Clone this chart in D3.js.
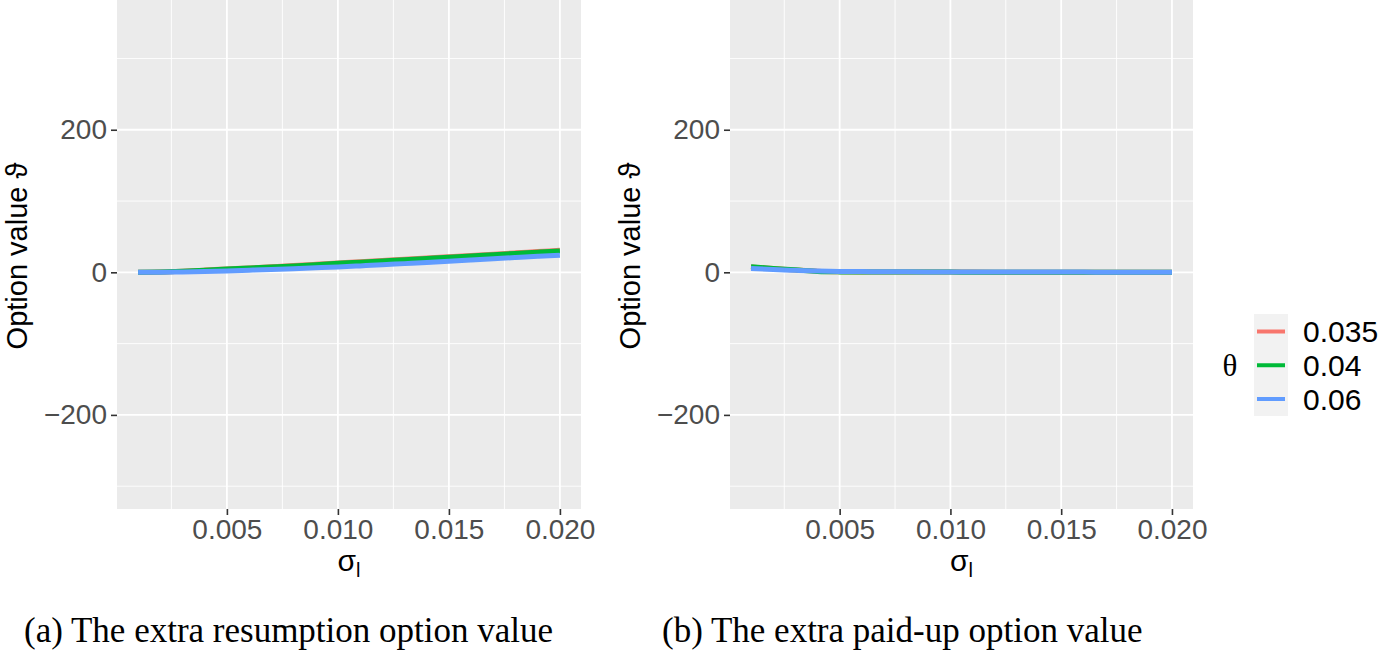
<!DOCTYPE html>
<html>
<head>
<meta charset="utf-8">
<script src="https://cdn.jsdelivr.net/npm/d3@7"></script>
<style>
body{margin:0;background:#fff}
</style>
</head>
<body>
<div id="fig"></div>
<script>
var sigma = [0.001,0.002,0.003,0.004,0.005,0.006,0.007,0.008,0.009,0.010,0.011,0.012,0.013,0.014,0.015,0.016,0.017,0.018,0.019,0.020];
var thetas = ["0.035","0.04","0.06"];
var colors = ["#F8766D","#00BA38","#619CFF"];

// (a) resumption option
var resA_035 = [0,0.5,1.6,3.1,4.7,6.2,7.8,9.4,11.2,13,14.8,16.5,18.3,20.1,21.9,23.7,25.5,27.3,29.1,30.9];
var resA_04  = [0,0.5,1.5,3,4.5,6,7.5,9,10.8,12.6,14.3,16,17.8,19.5,21.3,23,24.8,26.5,28.3,30];
var resA_06  = [0,0.2,0.6,1.2,2,3,4,5.1,6.3,7.5,9,10.6,12.2,13.9,15.6,17.3,19,20.7,22.4,24];

// (b) paid-up option
var resB_035 = [7.5,5.2,3.3,1.6,0.8,0.5,0.4,0.4,0.3,0.3,0.3,0.2,0.2,0.2,0.2,0.2,0.1,0.1,0.1,0.1];
var resB_04  = [8,5.5,3.5,1.3,0.6,0.4,0.4,0.3,0.3,0.3,0.2,0.2,0.2,0.2,0.2,0.1,0.1,0.1,0.1,0.1];
var resB_06  = [5.5,4,2.8,1.8,1.3,1.0,0.8,0.7,0.6,0.5,0.5,0.4,0.4,0.3,0.3,0.3,0.2,0.2,0.2,0.2];

var xTicks = [0.005,0.010,0.015,0.020];
var xMinor = [0.0025,0.0075,0.0125,0.0175];
var yTicks = [-200,0,200];
var yMinor = [-300,-100,100,300];

var captions = ["(a) The extra resumption option value","(b) The extra paid-up option value"];

const W = 1380, H = 650;
const sans = "'Liberation Sans', Arial, Helvetica, sans-serif";
const serif = "'Liberation Serif', 'Times New Roman', serif";

const svg = d3.select("#fig").append("svg")
	.attr("width",W).attr("height",H)
	.attr("viewBox","0 0 "+W+" "+H);

function panel(x0,x1,series,caption,capX){
	const X = d3.scaleLinear().domain([0.00005,0.02095]).range([x0,x1]);
	const Y = d3.scaleLinear().domain([-332,382]).range([509,0]);
	const g = svg.append("g");

	g.append("rect")
		.attr("x",x0).attr("y",0)
		.attr("width",x1-x0).attr("height",509)
		.style("fill","#EBEBEB");

	g.selectAll(".xminor").data(xMinor).enter().append("line")
		.attr("x1",d=>X(d)).attr("x2",d=>X(d))
		.attr("y1",0).attr("y2",509)
		.style("stroke","#fff").style("stroke-width",0.9);
	g.selectAll(".yminor").data(yMinor).enter().append("line")
		.attr("x1",x0).attr("x2",x1)
		.attr("y1",d=>Y(d)).attr("y2",d=>Y(d))
		.style("stroke","#fff").style("stroke-width",0.9);
	g.selectAll(".xmajor").data(xTicks).enter().append("line")
		.attr("x1",d=>X(d)).attr("x2",d=>X(d))
		.attr("y1",0).attr("y2",509)
		.style("stroke","#fff").style("stroke-width",1.8);
	g.selectAll(".ymajor").data(yTicks).enter().append("line")
		.attr("x1",x0).attr("x2",x1)
		.attr("y1",d=>Y(d)).attr("y2",d=>Y(d))
		.style("stroke","#fff").style("stroke-width",1.8);

	const line = d3.line()
		.x((d,i)=>X(sigma[i]))
		.y(d=>Y(d))
		.curve(d3.curveMonotoneX);

	g.selectAll(".series").data(series).enter().append("path")
		.attr("d",d=>line(d))
		.style("fill","none")
		.style("stroke",(d,i)=>colors[i])
		.style("stroke-width",5)
		.style("stroke-linejoin","round");

	const xAxis = g.append("g")
		.attr("transform","translate(0,509)")
		.call(d3.axisBottom(X).tickValues(xTicks).tickFormat(d3.format(".3f")).tickSize(6).tickPadding(4));
	xAxis.select(".domain").remove();
	xAxis.selectAll("line").style("stroke","#333").style("stroke-width",1.6);
	xAxis.selectAll("text").style("font-family",sans).style("font-size","28px").style("fill","#4D4D4D");

	const yAxis = g.append("g")
		.attr("transform","translate("+x0+",0)")
		.call(d3.axisLeft(Y).tickValues(yTicks).tickFormat(d=>d<0?"\u2212"+Math.abs(d):d).tickSize(6).tickPadding(4));
	yAxis.select(".domain").remove();
	yAxis.selectAll("line").style("stroke","#333").style("stroke-width",1.6);
	yAxis.selectAll("text").style("font-family",sans).style("font-size","28px").style("fill","#4D4D4D");

	const xt = g.append("text")
		.attr("x",(x0+x1)/2).attr("y",571)
		.attr("text-anchor","middle")
		.style("font-family",sans).style("font-size","30px").style("fill","#000");
	xt.append("tspan").text("\u03C3");
	xt.append("tspan").attr("dy",6).style("font-size","20px").text("l");

	g.append("text")
		.attr("transform","translate("+(x0-90)+",256) rotate(-90)")
		.attr("text-anchor","middle")
		.style("font-family",sans).style("font-size","29px").style("fill","#000")
		.text("Option value \u03D1");

	g.append("text")
		.attr("x",capX).attr("y",642)
		.style("font-family",serif).style("font-size","35px").style("fill","#000")
		.text(caption);
}

panel(117,581,[resA_035,resA_04,resA_06],captions[0],24);
panel(730,1193,[resB_035,resB_04,resB_06],captions[1],662);

// legend
const leg = svg.append("g");
const LY = d3.scalePoint().domain(thetas).range([331.5,399]);
leg.append("rect")
	.attr("x",1254).attr("y",314)
	.attr("width",34).attr("height",102)
	.style("fill","#F2F2F2");
leg.selectAll(".key").data(thetas).enter().append("line")
	.attr("x1",1257).attr("x2",1285)
	.attr("y1",d=>LY(d)).attr("y2",d=>LY(d))
	.style("stroke",(d,i)=>colors[i])
	.style("stroke-width",4);
leg.selectAll(".lab").data(thetas).enter().append("text")
	.attr("x",1303).attr("y",d=>LY(d))
	.attr("dy","0.36em")
	.style("font-family",sans).style("font-size","30px").style("fill","#000")
	.text(d=>d);
leg.append("text")
	.attr("x",1230).attr("y",365).attr("dy","0.34em")
	.attr("text-anchor","middle")
	.style("font-family",serif).style("font-size","31px")
	.text("\u03B8");
</script>
</body>
</html>
